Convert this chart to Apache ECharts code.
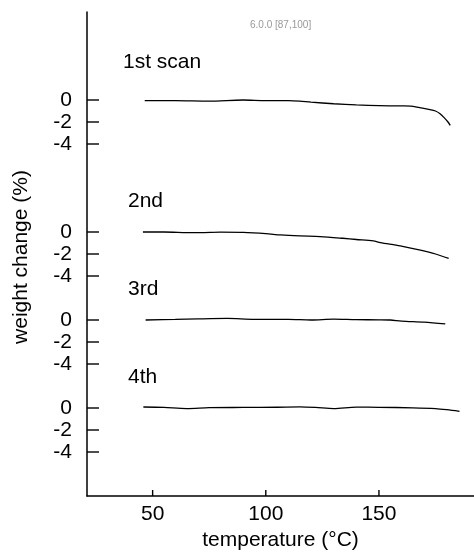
<!DOCTYPE html>
<html lang="en">
<head>
	<meta charset="UTF-8">
	<title>weight change</title>
	<style>
		body { margin: 0; background: #fff; }
	</style>
</head>
<body>
	<div id="main" style="width: 474px;height:556px;"></div>
</body>
<script type="text/javascript" src="https://cdn.jsdelivr.net/npm/echarts@6/dist/echarts.min.js"></script>
<script type="text/javascript">
	// temperature (°C) / weight change (%)
	var scan1T = [46.5, 60, 75, 90, 100, 110, 115, 120, 130, 140, 150, 160, 164, 168, 172, 175, 177, 179, 180.5, 181.5];
	var scan1W = [-0.05, -0.05, -0.1, 0.0, -0.05, -0.05, -0.1, -0.2, -0.34, -0.45, -0.52, -0.54, -0.55, -0.7, -0.85, -1.0, -1.25, -1.65, -2.0, -2.3];

	var scan2T = [45.7, 55, 65, 71, 80, 90, 100, 106.5, 115, 124, 134, 140, 147.5, 150.6, 159.4, 168.3, 175, 180.8];
	var scan2W = [0.0, 0.0, -0.05, -0.06, -0.02, -0.04, -0.15, -0.27, -0.36, -0.42, -0.57, -0.68, -0.81, -0.96, -1.26, -1.65, -2.0, -2.4];

	var scan3T = [46.9, 60, 70, 83, 95, 110, 120, 130, 140, 150, 155, 160, 170, 179.3];
	var scan3W = [0.0, 0.05, 0.1, 0.14, 0.05, 0.05, 0.0, 0.08, 0.03, 0.02, 0.0, -0.1, -0.2, -0.36];

	var scan4T = [45.9, 55, 65, 75, 90, 105, 115, 122, 130, 140, 150, 165, 175, 180, 185.6];
	var scan4W = [0.09, 0.05, -0.05, 0.03, 0.05, 0.07, 0.1, 0.05, -0.05, 0.08, 0.06, 0.02, -0.05, -0.15, -0.3];

	var scanNames = ['1st scan', '2nd', '3rd', '4th'];
	// each scan is shifted down the common axis
	var offsets = [0, -12, -20, -28];
	var yTicks = [0, -2, -4];
	var xTicks = [50, 100, 150];
	var xMin = 21, xMax = 192, yMin = -36, yMax = 8;

	var font = "'Liberation Sans', Arial, sans-serif";

	var allT = [scan1T, scan2T, scan3T, scan4T];
	var allW = [scan1W, scan2W, scan3W, scan4W];

	var tickValues = [];
	offsets.forEach(function (off) {
		yTicks.forEach(function (t) { tickValues.push(t + off); });
	});

	function tickLabel(v) {
		for (var i = 0; i < offsets.length; i++) {
			var d = v - offsets[i];
			if (d <= 0 && d >= -4) return String(d === 0 ? 0 : d);
		}
		return '';
	}

	var series = allT.map(function (ts, i) {
		return {
			name: scanNames[i],
			type: 'line',
			showSymbol: false,
			smooth: 0.3,
			silent: true,
			lineStyle: { color: '#000', width: 1.3 },
			data: ts.map(function (t, j) { return [t, allW[i][j] + offsets[i]]; })
		};
	});

	var labelPos = [[123, 52], [128, 191], [128, 279], [128, 367]];
	var graphics = scanNames.map(function (name, i) {
		return { type: 'text', id: 'lbl' + i, left: labelPos[i][0], top: labelPos[i][1], style: { text: name, font: '21px ' + font, fill: '#000' } };
	});

	var myChart = echarts.init(document.getElementById('main'));
	myChart.setOption({
		animation: false,
		grid: { left: 87, right: 0, top: 12, bottom: 54 },
		xAxis: {
			type: 'value',
			min: xMin,
			max: xMax,
			name: 'temperature (°C)',
			nameLocation: 'middle',
			nameGap: 34,
			nameTextStyle: { fontFamily: font, fontSize: 21, color: '#000' },
			axisLine: { onZero: false, lineStyle: { color: '#000', width: 1.5 } },
			axisTick: { show: false },
			axisLabel: { customValues: xTicks, margin: 8, fontFamily: font, fontSize: 21, color: '#000' },
			splitLine: { show: false }
		},
		yAxis: {
			type: 'value',
			min: yMin,
			max: yMax,
			name: 'weight change (%)',
			nameLocation: 'middle',
			nameGap: 55,
			nameTextStyle: { fontFamily: font, fontSize: 21, color: '#000', padding: [0, 6, 0, 0] },
			axisLine: { show: true, onZero: false, lineStyle: { color: '#000', width: 1.5 } },
			axisTick: { show: false },
			axisLabel: { customValues: tickValues, margin: 15, fontFamily: font, fontSize: 21, color: '#000', formatter: tickLabel },
			splitLine: { show: false }
		},
		graphic: graphics,
		series: series
	});

	// inward tick marks as small filled rects, positioned through the axis scales
	var dbg = [];
	tickValues.forEach(function (v, i) {
		var p = myChart.convertToPixel({ xAxisIndex: 0, yAxisIndex: 0 }, [xMin, v]);
		dbg.push(p);
		graphics.push({ type: 'rect', id: 'yt' + i, z: 100, shape: { x: p[0], y: p[1] - 0.7, width: 12, height: 1.4 }, style: { fill: '#000' } });
	});
	xTicks.forEach(function (t, i) {
		var p = myChart.convertToPixel({ xAxisIndex: 0, yAxisIndex: 0 }, [t, yMin]);
		graphics.push({ type: 'rect', id: 'xt' + i, z: 100, shape: { x: p[0] - 0.7, y: p[1] - 6, width: 1.4, height: 6 }, style: { fill: '#000' } });
	});
	graphics.push({ type: 'text', id: 'dbg', left: 250, top: 20, style: { text: echarts.version + ' ' + JSON.stringify(dbg[0]), font: '10px sans-serif', fill: '#999' } });
	myChart.setOption({ graphic: graphics });
</script>
</html>
